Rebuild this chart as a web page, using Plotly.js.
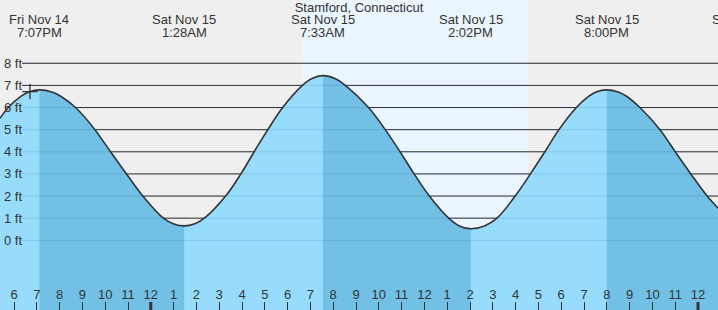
<!DOCTYPE html>
<html><head><meta charset="utf-8">
<script src="https://cdn.plot.ly/plotly-3.0.1.min.js"></script>
<style>html,body{margin:0;padding:0;background:#efefef;overflow:hidden}#chart{width:718px;height:310px}</style>
</head><body><div id="chart"></div>
<script>
const chartTitle = 'Stamford, Connecticut';

// Tide curve (time, height in ft)
const tideTimes = [
  '2025-11-14 17:23','2025-11-14 17:45','2025-11-14 18:18','2025-11-14 18:39','2025-11-14 19:07',
  '2025-11-14 19:40','2025-11-14 20:04','2025-11-14 20:42','2025-11-14 21:33','2025-11-14 22:14',
  '2025-11-14 22:56','2025-11-14 23:39','2025-11-15 00:33','2025-11-15 00:59','2025-11-15 01:28',
  '2025-11-15 01:56','2025-11-15 02:21','2025-11-15 03:17','2025-11-15 03:57','2025-11-15 04:32',
  '2025-11-15 05:08','2025-11-15 05:47','2025-11-15 06:39','2025-11-15 07:03','2025-11-15 07:33',
  '2025-11-15 08:06','2025-11-15 08:32','2025-11-15 09:33','2025-11-15 10:17','2025-11-15 10:56',
  '2025-11-15 11:33','2025-11-15 12:13','2025-11-15 13:04','2025-11-15 13:32','2025-11-15 14:02',
  '2025-11-15 14:38','2025-11-15 15:11','2025-11-15 15:59','2025-11-15 16:39','2025-11-15 17:17',
  '2025-11-15 17:54','2025-11-15 18:40','2025-11-15 19:12','2025-11-15 19:32','2025-11-15 20:00',
  '2025-11-15 20:30','2025-11-15 20:53','2025-11-15 21:27','2025-11-15 22:20','2025-11-15 23:00',
  '2025-11-15 23:41','2025-11-16 00:24','2025-11-16 00:53'
];
const tideFeet = [
  5.51, 6.0, 6.5, 6.7, 6.80,
  6.7, 6.5, 6.0, 5.0, 4.0,
  3.0, 2.0, 1.0, 0.75, 0.65,
  0.75, 1.0, 2.0, 3.0, 4.0,
  5.0, 6.0, 7.0, 7.3, 7.44,
  7.3, 7.0, 6.0, 5.0, 4.0,
  3.0, 2.0, 1.0, 0.65, 0.52,
  0.65, 1.0, 2.0, 3.0, 4.0,
  5.0, 6.0, 6.5, 6.7, 6.80,
  6.7, 6.5, 6.0, 5.0, 4.0,
  3.0, 2.0, 1.45
];

// High / low tide labels
const extremaTimes = ['2025-11-14 19:07','2025-11-15 01:28','2025-11-15 07:33','2025-11-15 14:02','2025-11-15 20:00'];
const extremaDates = ['Fri Nov 14','Sat Nov 15','Sat Nov 15','Sat Nov 15','Sat Nov 15'];
const extremaClock = ['7:07PM','1:28AM','7:33AM','2:02PM','8:00PM'];
const nextDateLabel = 'Sun Nov 16';

// Daylight band (sunrise, sunset)
const daylight = ['2025-11-15 06:40','2025-11-15 16:32'];

// Current-time marker
const nowTime = ['2025-11-14 18:42'];
const nowFeet = [6.72];

// Axes
const yTicks = [0,1,2,3,4,5,6,7,8];
const hourStart = [2025, 10, 14, 18];
const hourLabels = ['6','7','8','9','10','11','12','1','2','3','4','5','6','7','8','9','10','11','12','1','2','3','4','5','6','7','8','9','10','11','12'];
const midnights = ['2025-11-15 00:00','2025-11-16 00:00'];
const xRange = ['2025-11-14 17:23:09','2025-11-16 00:52:37'];
const yRange = [-3.15, 10.86];

const LIGHT = '#97dcfd', DARK = '#72c0e5', INK = '#333333', BG = '#efefef', DAY = '#ebf5fe';
const FONT = 'Liberation Sans, Arial, Helvetica, sans-serif';
const W = 718, H = 310;

function pad(n){return (n<10?'0':'')+n;}
function fmt(d){return d.getFullYear()+'-'+pad(d.getMonth()+1)+'-'+pad(d.getDate())+' '+pad(d.getHours())+':'+pad(d.getMinutes());}
const hourTickTimes = hourLabels.map((_, i) => fmt(new Date(hourStart[0], hourStart[1], hourStart[2], hourStart[3] + i)));

const last = tideTimes.length - 1;
const traces = [];
// full light fill
traces.push({x:[tideTimes[0], tideTimes[last]], y:[-6,-6], mode:'lines', line:{width:0}, hoverinfo:'skip', showlegend:false});
traces.push({x:tideTimes, y:tideFeet, mode:'lines', line:{width:0, shape:'spline'}, fill:'tonexty', fillcolor:LIGHT, hoverinfo:'skip', showlegend:false});
// falling-tide segments in darker blue
const bounds = [0].concat(extremaTimes.map(t => tideTimes.indexOf(t)).filter(i => i > 0 && i < last), [last]);
for (let k = 0; k < bounds.length - 1; k++) {
  const a = bounds[k], b = bounds[k+1];
  if (tideFeet[b] < tideFeet[a]) {
    const xs = tideTimes.slice(a, b+1), ys = tideFeet.slice(a, b+1);
    traces.push({x:[xs[0], xs[xs.length-1]], y:[-6,-6], mode:'lines', line:{width:0}, hoverinfo:'skip', showlegend:false});
    traces.push({x:xs, y:ys, mode:'lines', line:{width:0, shape:'spline'}, fill:'tonexty', fillcolor:DARK, hoverinfo:'skip', showlegend:false});
  }
}
// outline
traces.push({x:tideTimes, y:tideFeet, mode:'lines', line:{width:1.6, color:INK, shape:'spline'}, hoverinfo:'skip', showlegend:false});
// now marker
traces.push({x:nowTime, y:nowFeet, mode:'markers', marker:{symbol:'cross-thin', size:11, line:{width:1.3, color:INK}}, hoverinfo:'skip', showlegend:false});

const shapes = [];
shapes.push({type:'rect', xref:'x', yref:'paper', x0:daylight[0], x1:daylight[1], y0:0, y1:1, fillcolor:DAY, line:{width:0}, layer:'below'});
yTicks.forEach(v => {
  shapes.push({type:'line', xref:'paper', yref:'y', x0:22/W, x1:1, y0:v, y1:v, line:{color:INK, width:1}, layer:'below'});
  shapes.push({type:'line', xref:'paper', yref:'y', x0:22/W, x1:1, y0:v, y1:v, line:{color:'rgba(0,50,90,0.13)', width:1}, layer:'above'});
});
midnights.forEach(t => {
  shapes.push({type:'line', xref:'x', yref:'paper', x0:t, x1:t, y0:0, y1:8/H, line:{color:INK, width:3}, layer:'above'});
});

const font = {family:FONT, size:13, color:INK};
const annotations = [];
yTicks.forEach(v => {
  annotations.push({xref:'paper', yref:'y', x:2/W, y:v, xanchor:'left', yanchor:'middle', text:v+' ft', showarrow:false, font:font});
});
extremaTimes.forEach((t, i) => {
  annotations.push({xref:'x', yref:'paper', x:t, y:1-19.5/H, xanchor:'center', yanchor:'middle', text:extremaDates[i], showarrow:false, font:font});
  annotations.push({xref:'x', yref:'paper', x:t, y:1-32/H, xanchor:'center', yanchor:'middle', text:extremaClock[i], showarrow:false, font:font});
});
annotations.push({xref:'paper', yref:'paper', x:745.5/W, y:1-19.5/H, xanchor:'center', yanchor:'middle', text:nextDateLabel, showarrow:false, font:font});

const layout = {
  width:W, height:H, margin:{l:0,r:0,t:0,b:0,pad:0},
  paper_bgcolor:BG, plot_bgcolor:BG,
  title:{text:chartTitle, x:0.5, xanchor:'center', y:1-7.5/H, yanchor:'middle', font:font},
  xaxis:{type:'date', range:xRange, tickmode:'array', tickvals:hourTickTimes, ticktext:hourLabels,
         ticks:'inside', ticklen:8, tickwidth:1, tickcolor:INK, ticklabelposition:'inside',
         showgrid:false, zeroline:false, showline:false, tickfont:font, fixedrange:true},
  yaxis:{range:yRange, showgrid:false, zeroline:false, showline:false, showticklabels:false, ticks:'', fixedrange:true},
  shapes:shapes, annotations:annotations, showlegend:false, hovermode:false
};
Plotly.newPlot('chart', traces, layout, {staticPlot:true, displayModeBar:false});
</script></body></html>
